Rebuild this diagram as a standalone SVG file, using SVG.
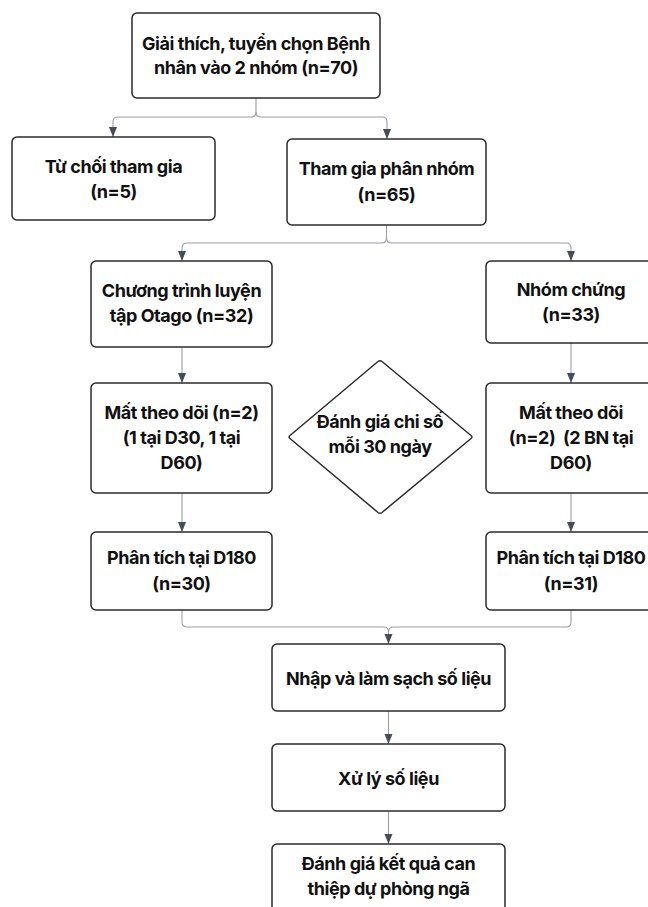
<svg xmlns="http://www.w3.org/2000/svg" width="648" height="907" viewBox="0 0 648 907">
<defs>
<marker id="ah" markerUnits="userSpaceOnUse" markerWidth="10" markerHeight="10" viewBox="0 0 10 10" refX="10" refY="5" orient="auto">
<path d="M0,1 L10,5 L0,9 Z" fill="#464c57"/>
</marker>
</defs>
<style>
.box{fill:#fff;stroke:#2b2b2b;stroke-width:1.5}
.t{font-family:Inter,"Noto Sans",sans-serif;font-weight:700;font-size:18px;letter-spacing:-0.45px;fill:#111;text-anchor:middle}
.c{fill:none;stroke:#9a9ea6;stroke-width:1.1}
.ca{fill:none;stroke:#9a9ea6;stroke-width:1.1;marker-end:url(#ah)}
</style>
<rect width="648" height="907" fill="#fff"/>
<g id="connectors">
<path class="c" d="M256,98 V112 Q256,117 251,117 H118 Q113,117 113,122"/>
<path class="ca" d="M113,122 V137"/>
<path class="c" d="M256,112 Q256,117 261,117 H382 Q387,117 387,122"/>
<path class="ca" d="M387,122 V139"/>
<path class="c" d="M386.5,225 V238 Q386.5,243 381.5,243 H187 Q182,243 182,248"/>
<path class="ca" d="M182,248 V261"/>
<path class="c" d="M386.5,238 Q386.5,243 391.5,243 H566 Q571,243 571,248"/>
<path class="ca" d="M571,248 V261"/>
<path class="ca" d="M182,347 V383"/>
<path class="ca" d="M571,343 V383"/>
<path class="ca" d="M182,493 V532"/>
<path class="ca" d="M571,493 V532"/>
<path class="c" d="M182,610 V622 Q182,627 187,627 H383.5 Q388.5,627 388.5,632"/>
<path class="c" d="M571,610 V622 Q571,627 566,627 H393.5 Q388.5,627 388.5,632"/>
<path class="ca" d="M388.5,632 V644"/>
<path class="ca" d="M388.5,711 V744"/>
<path class="ca" d="M388.5,811 V844"/>
</g>
<g id="n1"><rect class="box" x="132" y="13" width="248" height="85" rx="5"/>
<text class="t" x="256" y="50">Giải thích, tuyển chọn Bệnh</text>
<text class="t" x="256" y="74">nhân vào 2 nhóm (n=70)</text></g>
<g id="n2"><rect class="box" x="12" y="137" width="203" height="83" rx="5"/>
<text class="t" x="113.5" y="173">Từ chối tham gia</text>
<text class="t" x="113.5" y="198">(n=5)</text></g>
<g id="n3"><rect class="box" x="287" y="139" width="199" height="86" rx="5"/>
<text class="t" x="386.5" y="175">Tham gia phân nhóm</text>
<text class="t" x="386.5" y="201">(n=65)</text></g>
<g id="n4"><rect class="box" x="91" y="261" width="181" height="86" rx="5"/>
<text class="t" x="181.5" y="297">Chương trình luyện</text>
<text class="t" x="181.5" y="322">tập Otago (n=32)</text></g>
<g id="n5"><rect class="box" x="486" y="261" width="170" height="82" rx="5"/>
<text class="t" x="571" y="296">Nhóm chứng</text>
<text class="t" x="571" y="321">(n=33)</text></g>
<g id="n6"><rect class="box" x="91" y="383" width="181" height="110" rx="5"/>
<text class="t" x="181.5" y="419">Mất theo dõi (n=2)</text>
<text class="t" x="181.5" y="444">(1 tại D30, 1 tại</text>
<text class="t" x="181.5" y="469">D60)</text></g>
<g id="n7"><rect class="box" x="486" y="383" width="170" height="110" rx="5"/>
<text class="t" x="571" y="419">Mất theo dõi</text>
<text class="t" x="571" y="444" xml:space="preserve">(n=2)  (2 BN tại</text>
<text class="t" x="571" y="469">D60)</text></g>
<g id="n8"><path class="box" d="M378,361.5 Q380,360 382,361.5 L471,435.5 Q473,437 471,438.5 L382,512.5 Q380,514 378,512.5 L290,438.5 Q288,437 290,435.5 Z"/>
<text class="t" x="380" y="428">Đánh giá chi số</text>
<text class="t" x="380" y="453">mỗi 30 ngày</text></g>
<g id="n9"><rect class="box" x="91" y="532" width="181" height="78" rx="5"/>
<text class="t" x="181.5" y="564">Phân tích tại D180</text>
<text class="t" x="181.5" y="590">(n=30)</text></g>
<g id="n10"><rect class="box" x="486" y="532" width="170" height="78" rx="5"/>
<text class="t" x="571" y="564">Phân tích tại D180</text>
<text class="t" x="571" y="590">(n=31)</text></g>
<g id="n11"><rect class="box" x="272" y="644" width="233" height="67" rx="5"/>
<text class="t" x="388.5" y="685">Nhập và làm sạch số liệu</text></g>
<g id="n12"><rect class="box" x="272" y="744" width="233" height="67" rx="5"/>
<text class="t" x="388.5" y="785">Xử lý số liệu</text></g>
<g id="n13"><rect class="box" x="272" y="844" width="233" height="80" rx="5"/>
<text class="t" x="388.5" y="870">Đánh giá kết quả can</text>
<text class="t" x="388.5" y="895">thiệp dự phòng ngã</text></g>
</svg>
